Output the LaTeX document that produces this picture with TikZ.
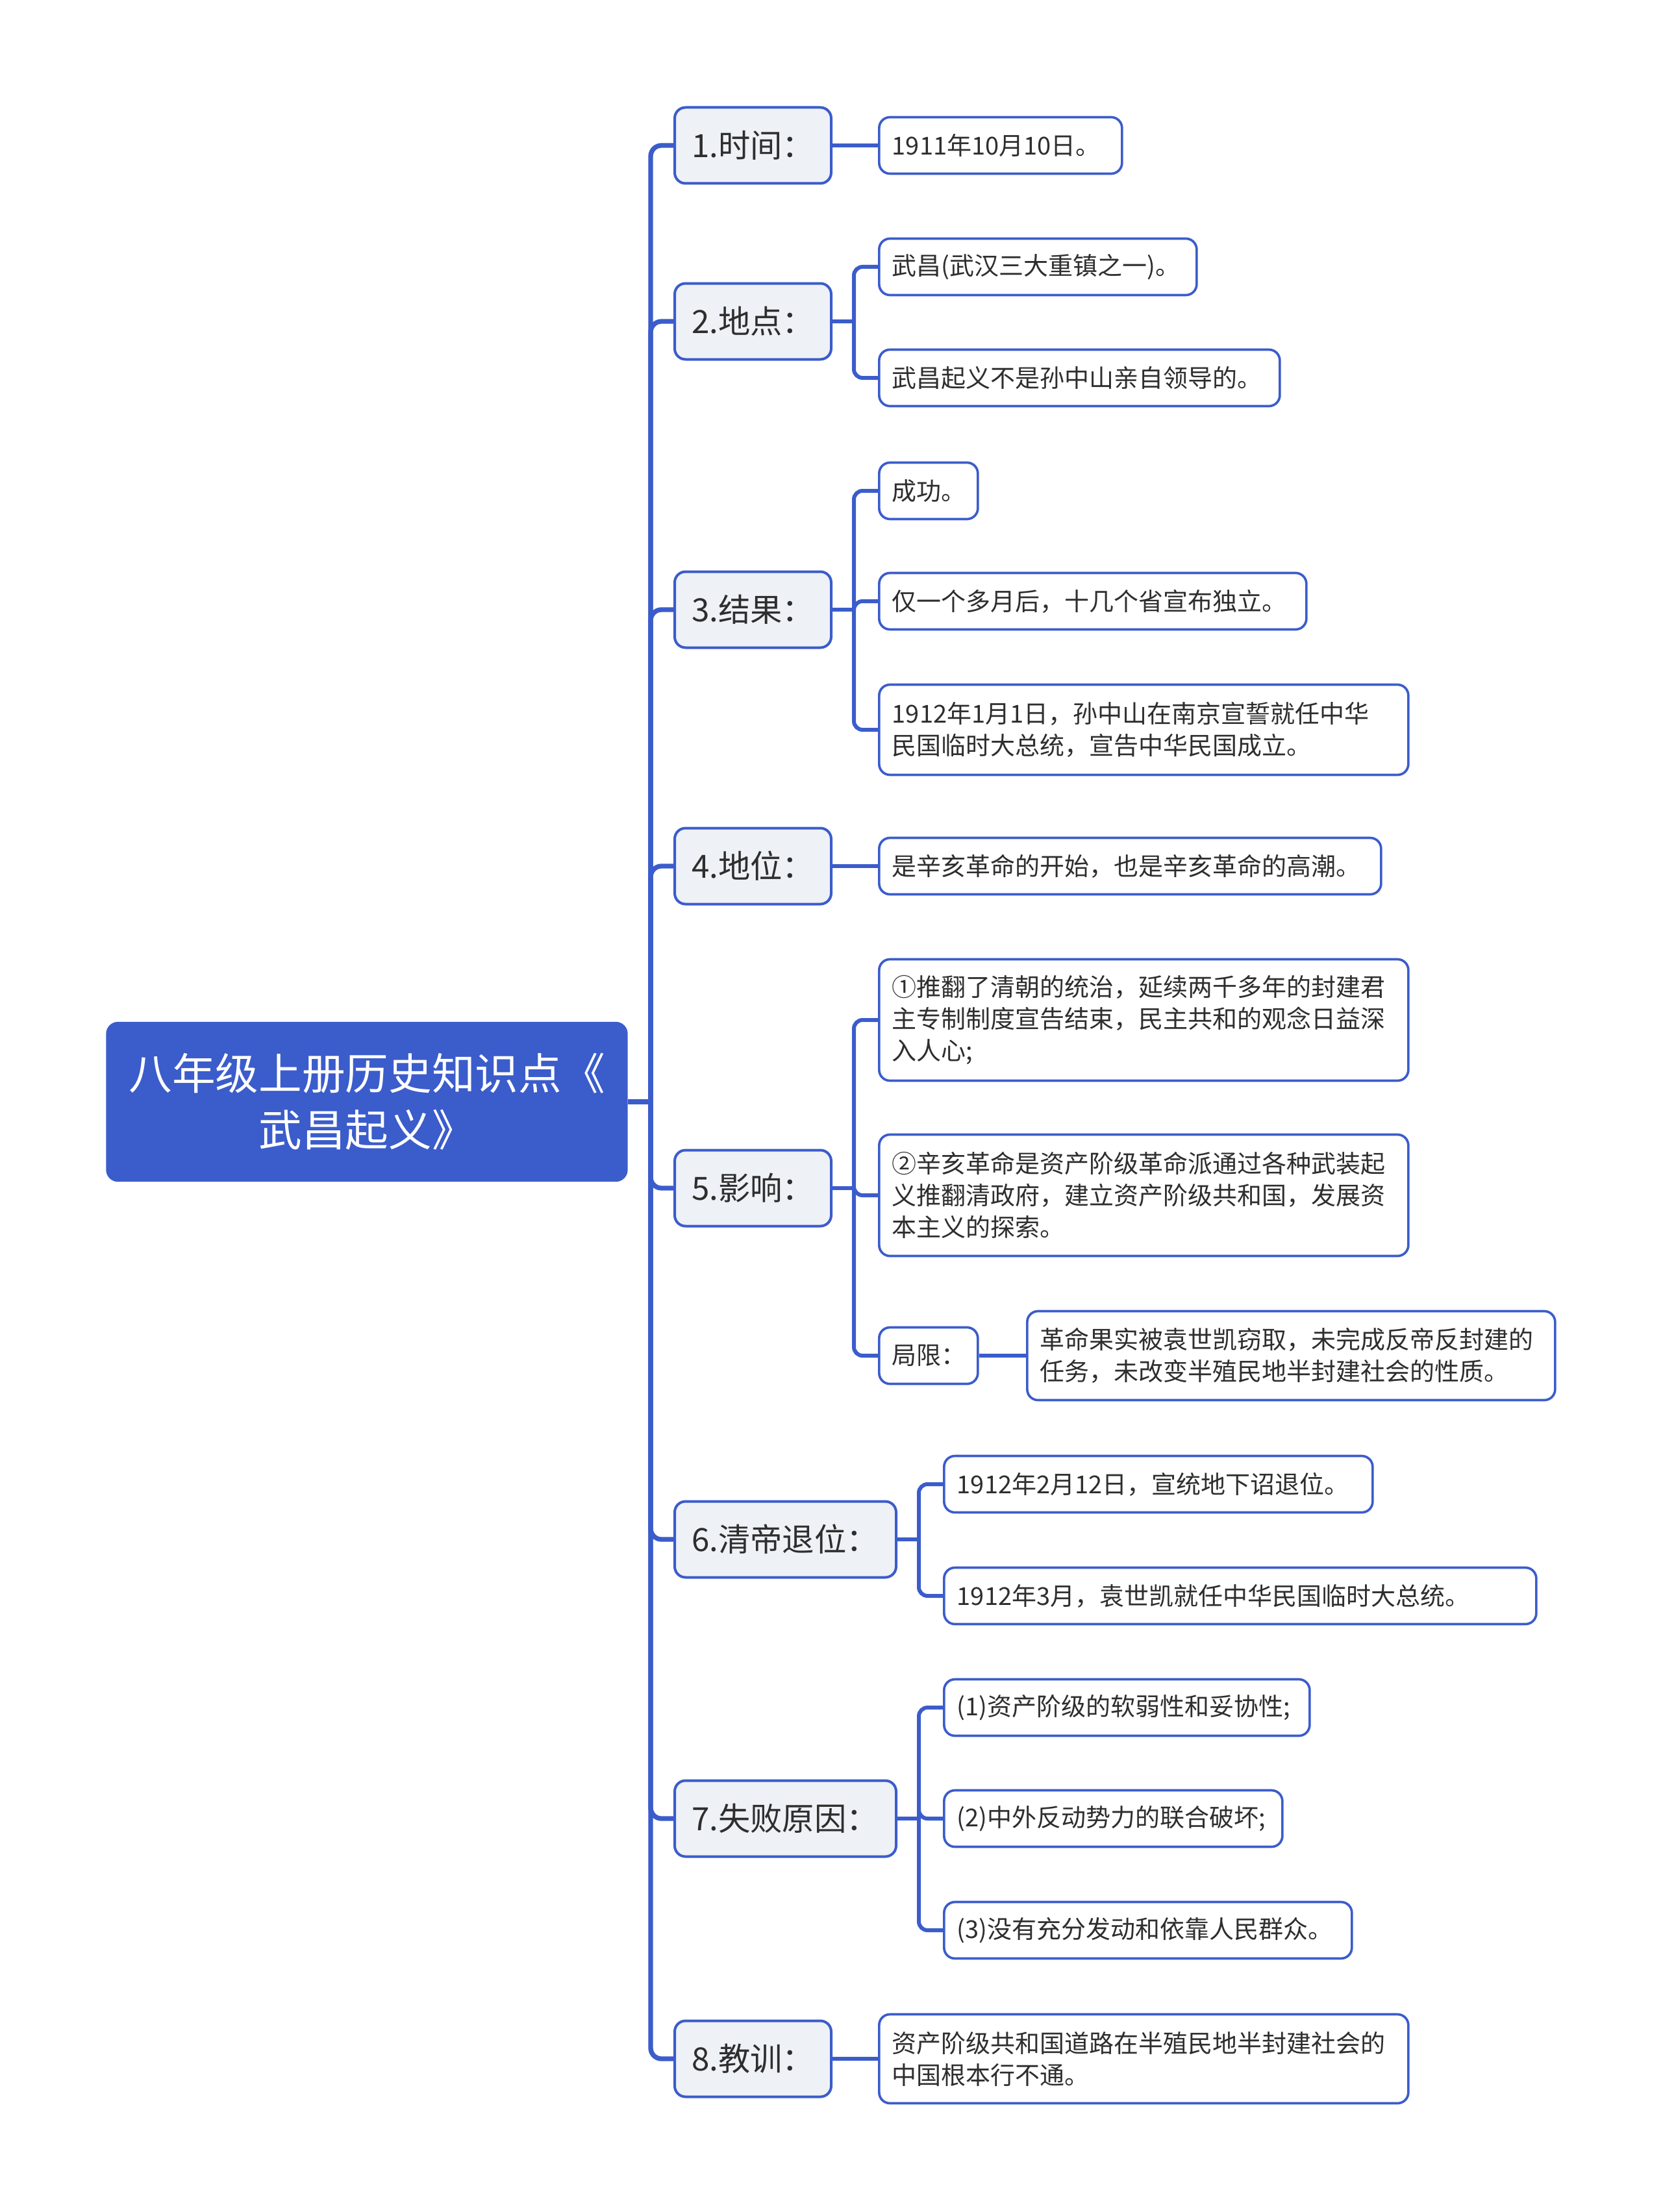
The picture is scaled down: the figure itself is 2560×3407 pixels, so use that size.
\documentclass[tikz,border=0pt]{standalone}
\usepackage{fontspec}
\setmainfont{Noto Sans CJK SC}
\definecolor{mblue}{HTML}{3B5CCB}
\definecolor{lfill}{HTML}{EEF1F5}
\definecolor{txt}{HTML}{2E2E2E}
\begin{document}
\begin{tikzpicture}[x=0.3pt,y=-0.3pt,
  rootbox/.style={draw=mblue, fill=mblue, rounded corners=5pt, line width=1pt, text=white,
    font=\fontsize{20}{26}\selectfont, align=center, minimum width=240pt, minimum height=72.9pt},
  lone/.style={draw=mblue, fill=lfill, rounded corners=5pt, line width=1.2pt, text=txt,
    font=\fontsize{14.8}{18}\selectfont, minimum height=35.1pt, inner xsep=7.8pt, inner ysep=0pt,
    align=left, anchor=west},
  ltwo/.style={draw=mblue, fill=white, rounded corners=5pt, line width=1.1pt, text=txt,
    font=\fontsize{11.4}{14.7}\selectfont, inner xsep=6pt, inner ysep=0pt, align=left, anchor=west},
  trunk/.style={draw=mblue, line width=2.2pt, rounded corners=5pt},
  conn/.style={draw=mblue, line width=1.8pt, rounded corners=4pt}
]
\useasboundingbox (0,0) rectangle (2560,3407);

% root
\node[rootbox] (root) at (565,1697) {八年级上册历史知识点《\\武昌起义》};

% level 1
\node[lone, text width=56.7pt, minimum height=35.1pt] (a1) at (1037,224) {1.时间：};
\node[lone, text width=56.7pt] (a2) at (1037,495) {2.地点：};
\node[lone, text width=56.7pt] (a3) at (1037,939) {3.结果：};
\node[lone, text width=56.7pt] (a4) at (1037,1334) {4.地位：};
\node[lone, text width=56.7pt] (a5) at (1037,1830) {5.影响：};
\node[lone, text width=86.7pt] (a6) at (1037,2371) {6.清帝退位：};
\node[lone, text width=86.7pt] (a7) at (1037,2801) {7.失败原因：};
\node[lone, text width=56.7pt] (a8) at (1037,3171) {8.教训：};

% level 2
\node[ltwo, text width=100.2pt, minimum height=26.1pt] (b11) at (1352,224) {1911年10月10日。};
\node[ltwo, text width=134.7pt, minimum height=26.1pt] (b21) at (1352,411) {武昌(武汉三大重镇之一)。};
\node[ltwo, text width=173.1pt, minimum height=26.1pt] (b22) at (1352,582) {武昌起义不是孙中山亲自领导的。};
\node[ltwo, text width=33.6pt, minimum height=26.1pt] (b31) at (1352,756) {成功。};
\node[ltwo, text width=185.4pt, minimum height=26.1pt] (b32) at (1352,926) {仅一个多月后，十几个省宣布独立。};
\node[ltwo, text width=232.5pt, minimum height=41.7pt] (b33) at (1352,1124) {1912年1月1日，孙中山在南京宣誓就任中华\\民国临时大总统，宣告中华民国成立。};
\node[ltwo, text width=219.9pt, minimum height=26.1pt] (b41) at (1352,1334) {是辛亥革命的开始，也是辛亥革命的高潮。};
\node[ltwo, text width=232.5pt, minimum height=56.1pt] (b51) at (1352,1571) {①推翻了清朝的统治，延续两千多年的封建君\\主专制制度宣告结束，民主共和的观念日益深\\入人心;};
\node[ltwo, text width=232.5pt, minimum height=56.1pt] (b52) at (1352,1841) {②辛亥革命是资产阶级革命派通过各种武装起\\义推翻清政府，建立资产阶级共和国，发展资\\本主义的探索。};
\node[ltwo, text width=33.6pt, minimum height=26.1pt] (b53) at (1352,2088) {局限：};
\node[ltwo, text width=231.9pt, minimum height=41.1pt] (c531) at (1580,2088) {革命果实被袁世凯窃取，未完成反帝反封建的\\任务，未改变半殖民地半封建社会的性质。};
\node[ltwo, text width=186pt, minimum height=26.1pt] (b61) at (1452,2286) {1912年2月12日，宣统地下诏退位。};
\node[ltwo, text width=261.6pt, minimum height=26.1pt] (b62) at (1452,2458) {1912年3月，袁世凯就任中华民国临时大总统。};
\node[ltwo, text width=156.9pt, minimum height=26.1pt] (b71) at (1452,2630) {(1)资产阶级的软弱性和妥协性;};
\node[ltwo, text width=144.3pt, minimum height=26.1pt] (b72) at (1452,2801) {(2)中外反动势力的联合破坏;};
\node[ltwo, text width=176.4pt, minimum height=26.1pt] (b73) at (1452,2973) {(3)没有充分发动和依靠人民群众。};
\node[ltwo, text width=232.5pt, minimum height=41.1pt] (b81) at (1352,3171) {资产阶级共和国道路在半殖民地半封建社会的\\中国根本行不通。};

% junctions
\coordinate (J0) at (1002,1697);
\coordinate (S2) at (1315,495);
\coordinate (S3) at (1315,939);
\coordinate (S5) at (1315,1830);
\coordinate (S6) at (1415,2371);
\coordinate (S7) at (1415,2801);

% trunk connectors
\draw[trunk] (root.east) -- (J0);
\foreach \n in {a1,a2,a3,a4,a5,a6,a7,a8} \draw[trunk] (J0) |- (\n.west);

% level-2 connectors
\draw[conn] (a1.east) -- (b11.west);
\draw[conn] (a4.east) -- (b41.west);
\draw[conn] (a8.east) -- (b81.west);
\draw[conn] (b53.east) -- (c531.west);
\draw[conn] (a2.east) -- (S2);
\foreach \n in {b21,b22} \draw[conn] (S2) |- (\n.west);
\draw[conn] (a3.east) -- (S3);
\foreach \n in {b31,b32,b33} \draw[conn] (S3) |- (\n.west);
\draw[conn] (a5.east) -- (S5);
\foreach \n in {b51,b52,b53} \draw[conn] (S5) |- (\n.west);
\draw[conn] (a6.east) -- (S6);
\foreach \n in {b61,b62} \draw[conn] (S6) |- (\n.west);
\draw[conn] (a7.east) -- (S7);
\foreach \n in {b71,b72,b73} \draw[conn] (S7) |- (\n.west);
\end{tikzpicture}
\end{document}
